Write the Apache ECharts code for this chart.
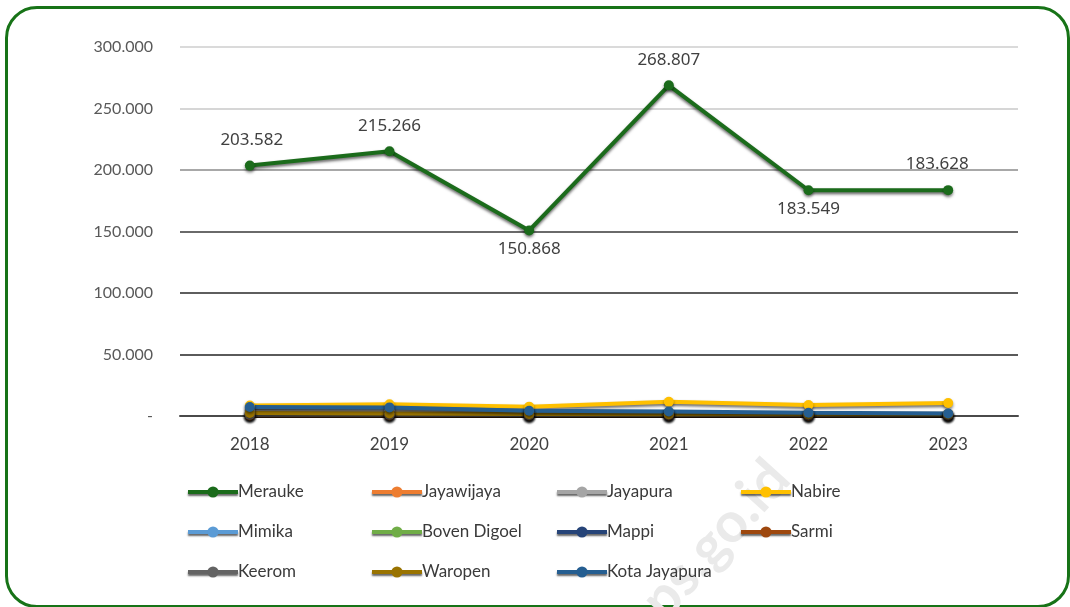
<!DOCTYPE html>
<html>
<head>
<meta charset="utf-8">
<script src="https://cdn.jsdelivr.net/npm/echarts@6/dist/echarts.min.js"></script>
<style>
  html, body { margin: 0; padding: 0; background: #ffffff; }
  #frame {
    position: absolute; left: 5px; top: 6px; width: 1059px; height: 596px;
    border: 3px solid #177317; border-radius: 32px; box-sizing: content-box;
  }
  #chart { position: absolute; left: 0; top: 0; width: 1070px; height: 607px; }
</style>
</head>
<body>
<div id="frame"></div>
<div id="chart"></div>
<script>
// Years on the category axis
const years = ['2018', '2019', '2020', '2021', '2022', '2023'];

// Values per regency / city
const merauke      = [203582, 215266, 150868, 268807, 183549, 183628];
const jayawijaya   = [1500, 1600, 1200, 1300, 1000, 1100];
const jayapura     = [4500, 4600, 3000, 2600, 2100, 1900];
const nabire       = [8600, 9600, 7600, 11600, 8900, 10500];
const mimika       = [900, 1000, 800, 900, 700, 800];
const bovenDigoel  = [600, 700, 500, 600, 500, 500];
const mappi        = [800, 900, 700, 700, 600, 700];
const sarmi        = [400, 450, 350, 400, 300, 350];
const keerom       = [1000, 1100, 900, 1000, 800, 900];
const waropen      = [2400, 2000, 1700, 1500, 1400, 1500];
const kotaJayapura = [7300, 7000, 4300, 3600, 2600, 2100];

// Y axis ticks
const yMin = 0, yMax = 300000, yStep = 50000;

// Label placement of each Merauke value
const meraukeLabelPos = ['top', 'top', 'bottom', 'top', 'bottom', 'top'];
const meraukeLabelShift = [2, 0, 0, 0, 0, -11];

const seriesDefs = [
  { name: 'Merauke', data: merauke, color: '#1b6b1b' },
  { name: 'Jayawijaya', data: jayawijaya, color: '#ed7d31' },
  { name: 'Jayapura', data: jayapura, color: '#a5a5a5' },
  { name: 'Nabire', data: nabire, color: '#ffc000' },
  { name: 'Mimika', data: mimika, color: '#5b9bd5' },
  { name: 'Boven Digoel', data: bovenDigoel, color: '#70ad47' },
  { name: 'Mappi', data: mappi, color: '#264478' },
  { name: 'Sarmi', data: sarmi, color: '#9e480e' },
  { name: 'Keerom', data: keerom, color: '#636363' },
  { name: 'Waropen', data: waropen, color: '#997300' },
  { name: 'Kota Jayapura', data: kotaJayapura, color: '#255e91' }
];

function fmt(v) {
  if (v === 0) return '-';
  return String(v).replace(/\B(?=(\d{3})+(?!\d))/g, '.');
}

const series = seriesDefs.map(function (d) {
  const s = {
    name: d.name,
    type: 'line',
    data: d.data,
    symbol: 'circle',
    symbolSize: 10,
    color: d.color,
    lineStyle: {
      width: 4, color: d.color,
      shadowColor: 'rgba(0,0,0,0.6)', shadowBlur: 3, shadowOffsetY: 2
    },
    itemStyle: {
      color: d.color,
      shadowColor: 'rgba(0,0,0,0.5)', shadowBlur: 3, shadowOffsetY: 2
    },
    emphasis: { disabled: true },
    animation: false
  };
  if (d.name === 'Merauke') {
    s.data = d.data.map(function (v, i) {
      const top = meraukeLabelPos[i] === 'top';
      return {
        value: v,
        label: {
          position: meraukeLabelPos[i],
          distance: top ? 12 : 5,
          offset: [meraukeLabelShift[i], 0]
        }
      };
    });
    s.label = {
      show: true,
      fontFamily: 'Noto Sans',
      fontSize: 17,
      color: '#404040',
      formatter: function (p) { return fmt(p.value); }
    };
  }
  return s;
});

// Legend laid out in four columns of up to three rows
const legendCols = [
  ['Merauke', 'Mimika', 'Keerom'],
  ['Jayawijaya', 'Boven Digoel', 'Waropen'],
  ['Jayapura', 'Mappi', 'Kota Jayapura'],
  ['Nabire', 'Sarmi']
];
const legendLeft = [186, 370, 555, 739];
const legends = legendCols.map(function (names, i) {
  return {
    data: names,
    orient: 'vertical',
    left: legendLeft[i],
    top: 482,
    padding: 0,
    itemWidth: 50,
    itemHeight: 14,
    itemGap: 20,
    selectedMode: false,
    lineStyle: { width: 4, shadowColor: 'rgba(0,0,0,0.6)', shadowBlur: 2, shadowOffsetY: 2 },
    textStyle: { fontFamily: 'Lato', fontSize: 17, color: '#3a3a3a', lineHeight: 20, padding: [0, 0, 0, -5] }
  };
});

const chart = echarts.init(document.getElementById('chart'), null, { renderer: 'canvas' });
chart.setOption({
  backgroundColor: 'transparent',
  animation: false,
  graphic: [{
    type: 'text',
    rotation: Math.PI * 48 / 180,
    z: -10,
    x: 610, y: 615,
    style: {
      text: 'bps.go.id',
      fontFamily: 'Lato', fontWeight: 'bold', fontSize: 56,
      fill: '#eaeaea'
    }
  }],
  grid: { left: 180, right: 52, top: 47, bottom: 191 },
  legend: legends,
  xAxis: {
    type: 'category',
    data: years,
    boundaryGap: true,
    axisLine: { lineStyle: { color: '#4a4a4a', width: 2 } },
    axisTick: { show: false },
    axisLabel: { margin: 20, fontFamily: 'Lato', fontSize: 17, color: '#404040' }
  },
  yAxis: {
    type: 'value',
    min: yMin, max: yMax, interval: yStep,
    axisLine: { show: false },
    axisTick: { show: false },
    axisLabel: {
      margin: 27, fontFamily: 'Lato', fontSize: 16, color: '#595959',
      formatter: fmt
    },
    splitLine: {
      lineStyle: {
        width: 2,
        color: ['#4a4a4a', '#5a5a5a', '#5e5e5e', '#6a6a6a', '#a8a8a8', '#d6d6d6', '#dadada']
      }
    }
  },
  series: series
});
</script>
</body>
</html>
